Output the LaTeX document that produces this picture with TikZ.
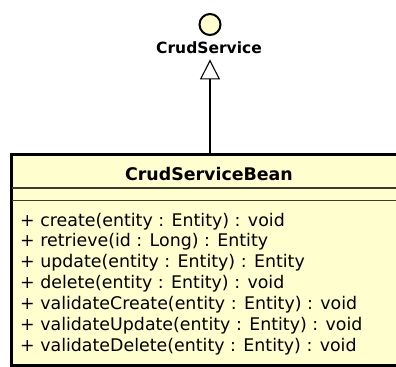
\documentclass[tikz,border=0pt]{standalone}
\usepackage{fontspec}
\setmainfont{DejaVu Sans}
\usetikzlibrary{arrows.meta,positioning}
\definecolor{uyellow}{HTML}{FEFECE}
\definecolor{usep}{HTML}{3C3C32}

\begin{document}
\begin{tikzpicture}[x=1bp, y=-1bp,
  classbox/.style={draw=black, fill=uyellow, line width=2.6bp, inner sep=0pt, outer sep=0pt},
  member/.style={anchor=base west, inner sep=0pt, font=\fontsize{17.4bp}{21bp}\selectfont},
  sepline/.style={usep, line width=1.3bp}]
 \useasboundingbox (0,0) rectangle (396,367);
 \node[classbox, minimum width=397bp, minimum height=211bp, anchor=north west] (bean) at (11.5,154.5) {};
 \node[anchor=base, inner sep=0pt, font=\fontsize{17.4bp}{21bp}\selectfont\bfseries] (beanname) at (209,180) {CrudServiceBean};
 \draw[sepline] (11.5,188) -- (408.5,188);
 \draw[sepline] (11.5,200.5) -- (408.5,200.5);
 \foreach \op [count=\i] in {create(entity : Entity) : void, retrieve(id : Long) : Entity, update(entity : Entity) : Entity, delete(entity : Entity) : void, validateCreate(entity : Entity) : void, validateUpdate(entity : Entity) : void, validateDelete(entity : Entity) : void}
  \node[member] (op\i) at (20,205.1+20.9*\i) {+ \op};
 \node[circle, draw=black, fill=uyellow, line width=2bp, minimum size=21bp, inner sep=0pt] (svc) at (210,24.5) {};
 \node[anchor=base, inner sep=0pt, font=\fontsize{15.5bp}{18bp}\selectfont\bfseries] (svcname) at (209,53) {CrudService};
 \draw[line width=1.1bp, -{Triangle[open, length=20bp, width=20bp, line width=1.1bp]}, shorten >=6bp] (bean.north) -- (bean.north |- svcname.south);
\end{tikzpicture}
\end{document}
